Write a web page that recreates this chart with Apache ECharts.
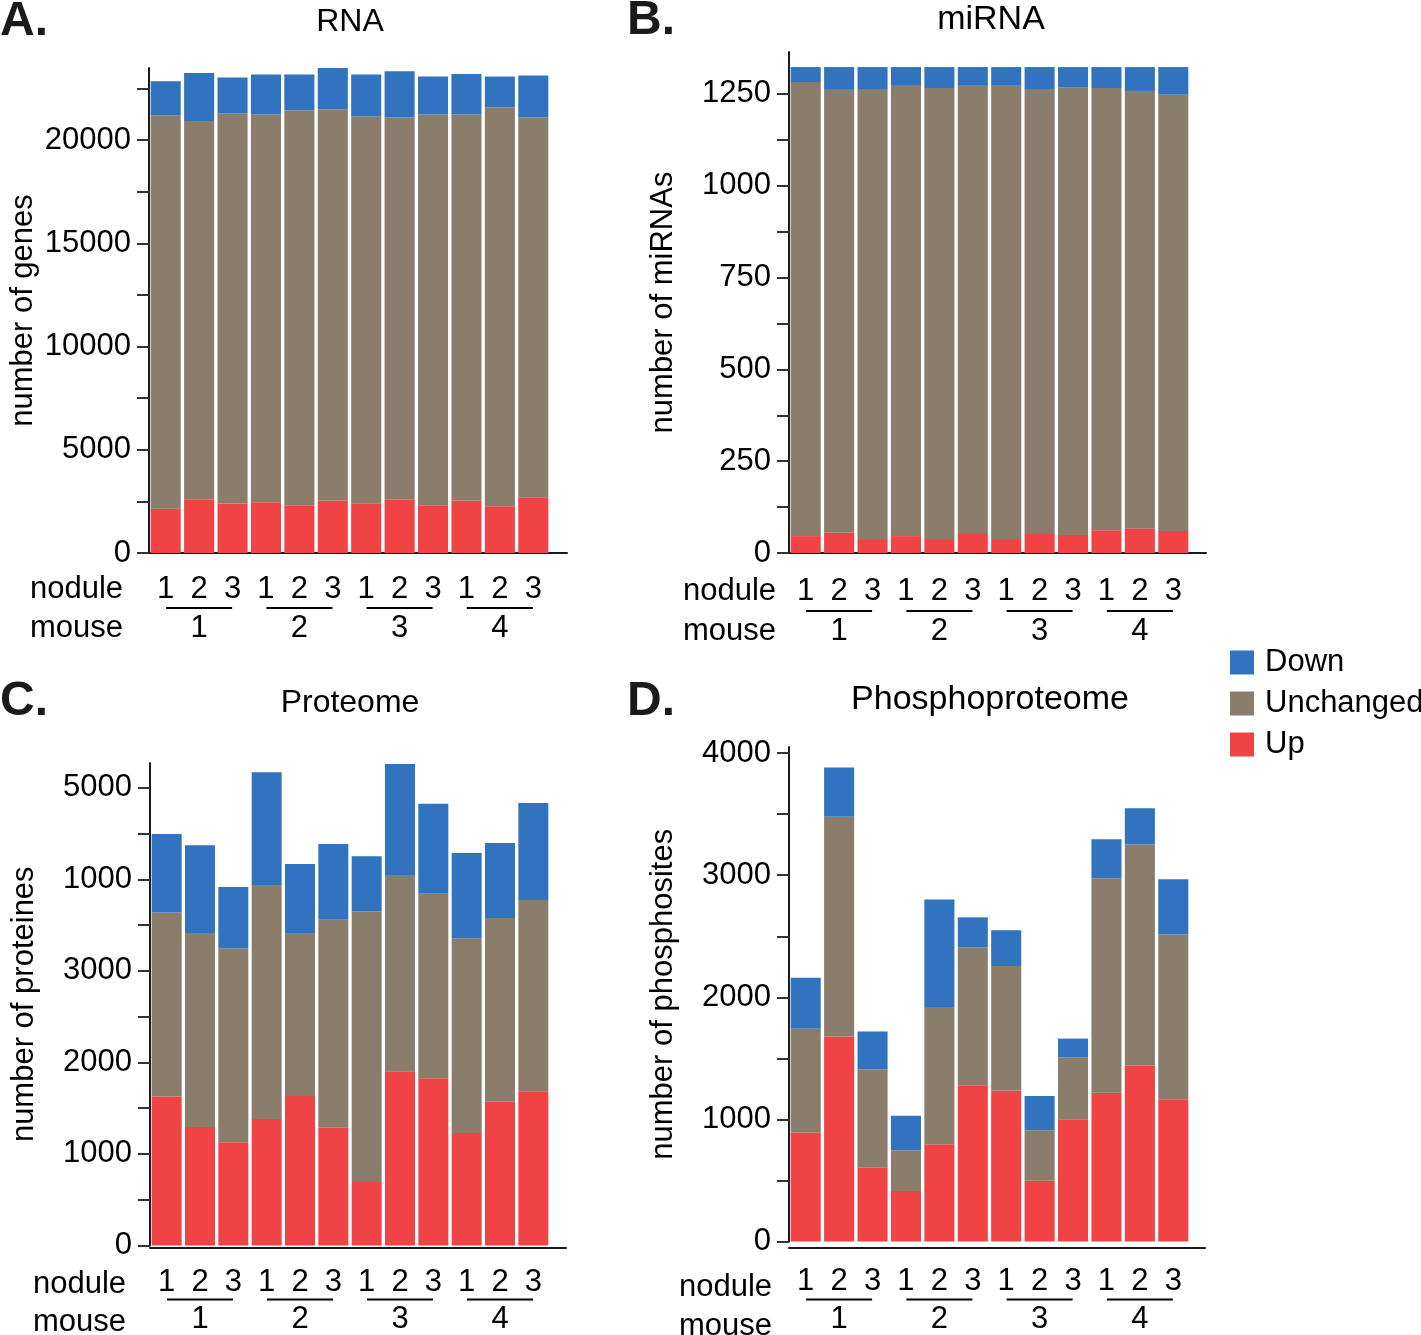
<!DOCTYPE html>
<html>
<head>
<meta charset="utf-8">
<script src="https://cdn.jsdelivr.net/npm/echarts@6/dist/echarts.min.js"></script>
<style>
html,body{margin:0;padding:0;background:#fff;}
#chart{width:1421px;height:1335px;}
</style>
</head>
<body>
<div id="chart"></div>
<script>
// ---------- data ----------
const categories = ['m1n1','m1n2','m1n3','m2n1','m2n2','m2n3','m3n1','m3n2','m3n3','m4n1','m4n2','m4n3'];
const noduleLabels = ['1','2','3','1','2','3','1','2','3','1','2','3'];
const mouseLabels = ['1','2','3','4'];

const rnaUp        = [2150, 2610, 2400, 2460, 2315, 2545, 2410, 2575, 2315, 2545, 2265, 2705];
const rnaUnchanged = [19060, 18325, 18890, 18785, 19140, 18955, 18750, 18525, 18930, 18700, 19335, 18395];
const rnaDown      = [1645, 2325, 1745, 1935, 1730, 2000, 2020, 2240, 1840, 1965, 1485, 2035];

const mirUp        = [46, 55, 38, 46, 38, 52, 38, 52, 49, 62, 67, 60];
const mirUnchanged = [1236, 1206, 1225, 1228, 1228, 1220, 1234, 1209, 1219, 1204, 1191, 1188];
const mirDown      = [41, 62, 60, 49, 57, 51, 51, 62, 55, 57, 65, 75];

const protUp        = [1627, 1294, 1128, 1381, 1634, 1287, 694, 1902, 1826, 1229, 1569, 1685];
const protUnchanged = [2010, 2119, 2115, 2556, 1779, 2270, 2954, 2144, 2017, 2126, 2007, 2089];
const protDown      = [857, 958, 672, 1233, 755, 828, 604, 1214, 983, 933, 820, 1060];

const phUp        = [893, 1679, 603, 414, 796, 1280, 1237, 498, 1001, 1219, 1442, 1165];
const phUnchanged = [850, 1799, 807, 334, 1125, 1130, 1020, 414, 508, 1756, 1810, 1350];
const phDown      = [417, 404, 309, 282, 879, 245, 293, 280, 153, 320, 296, 452];

// tick positions and labels
const rnaTicks = [0, 2500, 5000, 7500, 10000, 12500, 15000, 17500, 20000, 22500];
const rnaLabelValues = [0, 5000, 10000, 15000, 20000];
const rnaLabelTexts = ['0', '5000', '10000', '15000', '20000'];

const mirTicks = [0, 125, 250, 375, 500, 625, 750, 875, 1000, 1125, 1250];
const mirLabelValues = [0, 250, 500, 750, 1000, 1250];
const mirLabelTexts = ['0', '250', '500', '750', '1000', '1250'];

const protTicks = [0, 500, 1000, 1500, 2000, 2500, 3000, 3500, 4000, 4500, 5000];
const protLabelValues = [0, 1000, 2000, 3000, 4000, 5000];
const protLabelTexts = ['0', '1000', '2000', '3000', '1000', '5000'];

const phTicks = [0, 500, 1000, 1500, 2000, 2500, 3000, 3500, 4000];
const phLabelValues = [0, 1000, 2000, 3000, 4000];
const phLabelTexts = ['0', '1000', '2000', '3000', '4000'];

// ---------- style ----------
const FONT = "'Liberation Sans', Arial, Helvetica, sans-serif";
const C_UP = '#EF4346', C_UN = '#8B7D6B', C_DOWN = '#3173BE';
const AX = '#1a1a1a';

const panels = [
  {title:'RNA', letter:'A.', yName:'number of genes', max:23500, tfs:32,
   up:rnaUp, un:rnaUnchanged, down:rnaDown,
   ticks:rnaTicks, lv:rnaLabelValues, lt:rnaLabelTexts,
   grid:{left:149, top:68, width:401, height:485}, extW:418,
   titlePos:[350,22], letterPos:[0,22], nm:21, mm:53, rowX:30},
  {title:'miRNA', letter:'B.', yName:'number of miRNAs', max:1364, tfs:34,
   up:mirUp, un:mirUnchanged, down:mirDown,
   ticks:mirTicks, lv:mirLabelValues, lt:mirLabelTexts,
   grid:{left:789, top:52, width:401, height:501}, extW:417,
   titlePos:[991,20], letterPos:[627,21], nm:23, mm:56, rowX:683},
  {title:'Proteome', letter:'C.', yName:'number of proteines', max:5270, tfs:32,
   up:protUp, un:protUnchanged, down:protDown,
   ticks:protTicks, lv:protLabelValues, lt:protLabelTexts,
   grid:{left:150, top:763, width:400, height:485}, extW:416,
   titlePos:[350,703], letterPos:[0,702], nm:21, mm:52, rowX:33},
  {title:'Phosphoproteome', letter:'D.', yName:'number of phosphosites', max:4050, tfs:34,
   up:phUp, un:phUnchanged, down:phDown,
   ticks:phTicks, lv:phLabelValues, lt:phLabelTexts,
   grid:{left:789, top:747, width:401, height:501}, extW:416,
   titlePos:[990,700], letterPos:[627,702], nm:24, mm:56, rowX:679}
];

const grid = [], xAxis = [], yAxis = [], series = [], graphic = [];

panels.forEach((p, i) => {
  const gMain = grid.length;
  grid.push(Object.assign({}, p.grid));
  const gExt = grid.length;
  grid.push({left:p.grid.left, top:p.grid.top, width:p.extW, height:p.grid.height});

  // main category axis (nodule labels)
  const xMain = xAxis.length;
  xAxis.push({
    type:'category', gridIndex:gMain, position:'bottom', data:categories,
    axisLine:{show:false}, axisTick:{show:false},
    axisLabel:{interval:0, margin:p.nm, fontSize:31, color:'#000', fontFamily:FONT,
      formatter:(v, idx) => noduleLabels[idx]}
  });
  // mouse axis
  xAxis.push({
    type:'category', gridIndex:gMain, position:'bottom', data:mouseLabels,
    axisLine:{show:false}, axisTick:{show:false},
    axisLabel:{interval:0, margin:p.mm, color:'#000', fontFamily:FONT,
      formatter:(v) => '{ln| }\n{num|' + v + '}',
      rich:{
        ln:{width:66, height:2, lineHeight:4, backgroundColor:'#000', fontSize:2},
        num:{fontSize:31, lineHeight:36, color:'#000', fontFamily:FONT}
      }}
  });
  // extension axis line
  xAxis.push({
    type:'value', gridIndex:gExt, min:0, max:1, position:'bottom',
    axisLine:{show:true, lineStyle:{color:AX, width:2}},
    axisTick:{show:false}, axisLabel:{show:false}, splitLine:{show:false}
  });

  const yMain = yAxis.length;
  yAxis.push({
    type:'value', gridIndex:gMain, min:0, max:p.max,
    name:p.yName, nameLocation:'middle', nameGap:110,
    nameTextStyle:{fontSize:31, color:'#000', fontFamily:FONT},
    axisLine:{show:true, lineStyle:{color:AX, width:2}},
    axisTick:{show:true, length:12, customValues:p.ticks, lineStyle:{color:'#333', width:2}},
    axisLabel:{margin:18, fontSize:31, color:'#000', fontFamily:FONT,
      customValues:p.lv,
      formatter:(v) => { const k = p.lv.indexOf(v); return k >= 0 ? p.lt[k] : ''; }},
    splitLine:{show:false}
  });
  yAxis.push({type:'value', gridIndex:gExt, show:false, min:0, max:1});

  const common = {type:'bar', xAxisIndex:xMain, yAxisIndex:yMain, stack:'s' + i,
    barCategoryGap:'10%', silent:true, animation:false};
  series.push(Object.assign({name:'Up', data:p.up, itemStyle:{color:C_UP}}, common));
  series.push(Object.assign({name:'Unchanged', data:p.un, itemStyle:{color:C_UN}}, common));
  series.push(Object.assign({name:'Down', data:p.down, itemStyle:{color:C_DOWN}}, common));

  graphic.push({type:'text', x:p.titlePos[0], y:p.titlePos[1],
    style:{text:p.title, font:p.tfs + 'px ' + FONT, fill:'#000', textAlign:'center', textVerticalAlign:'middle'}});
  graphic.push({type:'text', x:p.letterPos[0], y:p.letterPos[1],
    style:{text:p.letter, font:'bold 48px ' + FONT, fill:'#1a1a1a', textAlign:'left', textVerticalAlign:'middle'}});
  const axisY = p.grid.top + p.grid.height;
  graphic.push({type:'text', x:p.rowX, y:axisY + p.nm + 15,
    style:{text:'nodule', font:'31px ' + FONT, fill:'#000', textAlign:'left', textVerticalAlign:'middle'}});
  graphic.push({type:'text', x:p.rowX, y:axisY + p.mm + 22,
    style:{text:'mouse', font:'31px ' + FONT, fill:'#000', textAlign:'left', textVerticalAlign:'middle'}});
});

const chart = echarts.init(document.getElementById('chart'), null, {renderer:'canvas'});
chart.setOption({
  backgroundColor:'#fff',
  animation:false,
  textStyle:{fontFamily:FONT},
  legend:{
    data:['Down','Unchanged','Up'], orient:'vertical', left:1230, top:647,
    itemWidth:24, itemHeight:24, itemGap:10, padding:0, icon:'rect',
    textStyle:{fontSize:31, color:'#000', fontFamily:FONT, padding:[0,0,0,6]},
    selectedMode:false
  },
  grid, xAxis, yAxis, series, graphic
});
</script>
</body>
</html>
